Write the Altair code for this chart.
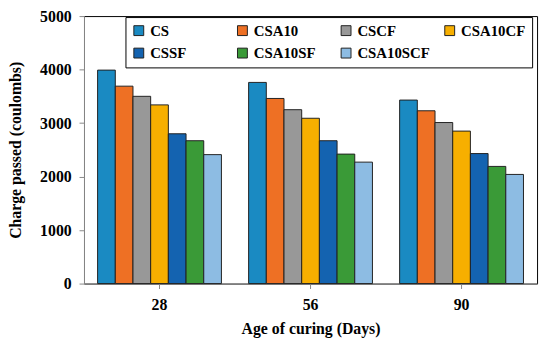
import altair as alt
import pandas as pd

days = ["28", "56", "90"]
mixes = ["CS", "CSA10", "CSCF", "CSA10CF", "CSSF", "CSA10SF", "CSA10SCF"]
colors = ["#1A8AC2", "#EE7024", "#989898", "#F7AF00", "#1463B0", "#3A9A37", "#8DBCE3"]
values = {
    "CS": [3990, 3760, 3430],
    "CSA10": [3690, 3460, 3230],
    "CSCF": [3500, 3250, 3010],
    "CSA10CF": [3340, 3090, 2850],
    "CSSF": [2800, 2670, 2430],
    "CSA10SF": [2670, 2420, 2190],
    "CSA10SCF": [2410, 2270, 2040],
}
y_ticks = [0, 1000, 2000, 3000, 4000, 5000]

rows = []
for m in mixes:
    for d, v in zip(days, values[m]):
        rows.append({"Age": d, "Mix": m, "Charge": v})
df = pd.DataFrame(rows)

FONT = "Liberation Serif"

chart = alt.Chart(df).mark_bar(stroke="#222222", strokeWidth=1).encode(
    x=alt.X("Age:N", sort=days,
            scale=alt.Scale(paddingInner=0.18, paddingOuter=0.09),
            axis=alt.Axis(title="Age of curing (Days)", labelAngle=0,
                          labelFont=FONT, labelFontWeight="bold", labelFontSize=16,
                          labelColor="black", labelPadding=8,
                          titleFont=FONT, titleFontWeight="bold", titleFontSize=16,
                          titleColor="black", titlePadding=9,
                          domainColor="#888888", tickColor="#888888", tickSize=5)),
    xOffset=alt.XOffset("Mix:N", sort=mixes, scale=alt.Scale(paddingInner=0, paddingOuter=0)),
    y=alt.Y("Charge:Q", scale=alt.Scale(domain=[0, 5000], nice=False),
            axis=alt.Axis(title="Charge passed (coulombs)", values=y_ticks, grid=False,
                          format="d",
                          labelFont=FONT, labelFontWeight="bold", labelFontSize=16,
                          labelColor="black", labelPadding=8,
                          titleFont=FONT, titleFontWeight="bold", titleFontSize=16,
                          titleColor="black", titlePadding=16,
                          domainColor="#888888", tickColor="#888888", tickSize=5)),
    color=alt.Color("Mix:N", sort=mixes, scale=alt.Scale(domain=mixes, range=colors),
                    legend=alt.Legend(title=None, orient="none", legendX=42, legendY=1,
                                      direction="horizontal", columns=4, gridAlign="all",
                                      columnPadding=12, rowPadding=7,
                                      symbolType="square", symbolSize=100,
                                      symbolStrokeColor="#222222", symbolStrokeWidth=1,
                                      labelFont=FONT, labelFontWeight="bold", labelFontSize=15,
                                      labelColor="black", labelOffset=4,
                                      strokeColor="black", padding=6,
                                      fillColor="white")),
).properties(
    width=459, height=271,
    autosize=alt.AutoSizeParams(type="none"),
    padding={"left": 77, "top": 6, "right": 5, "bottom": 56},
).configure_view(stroke="black", strokeWidth=1)

chart.save("out.html", embed_options={"renderer": "svg", "actions": False})
